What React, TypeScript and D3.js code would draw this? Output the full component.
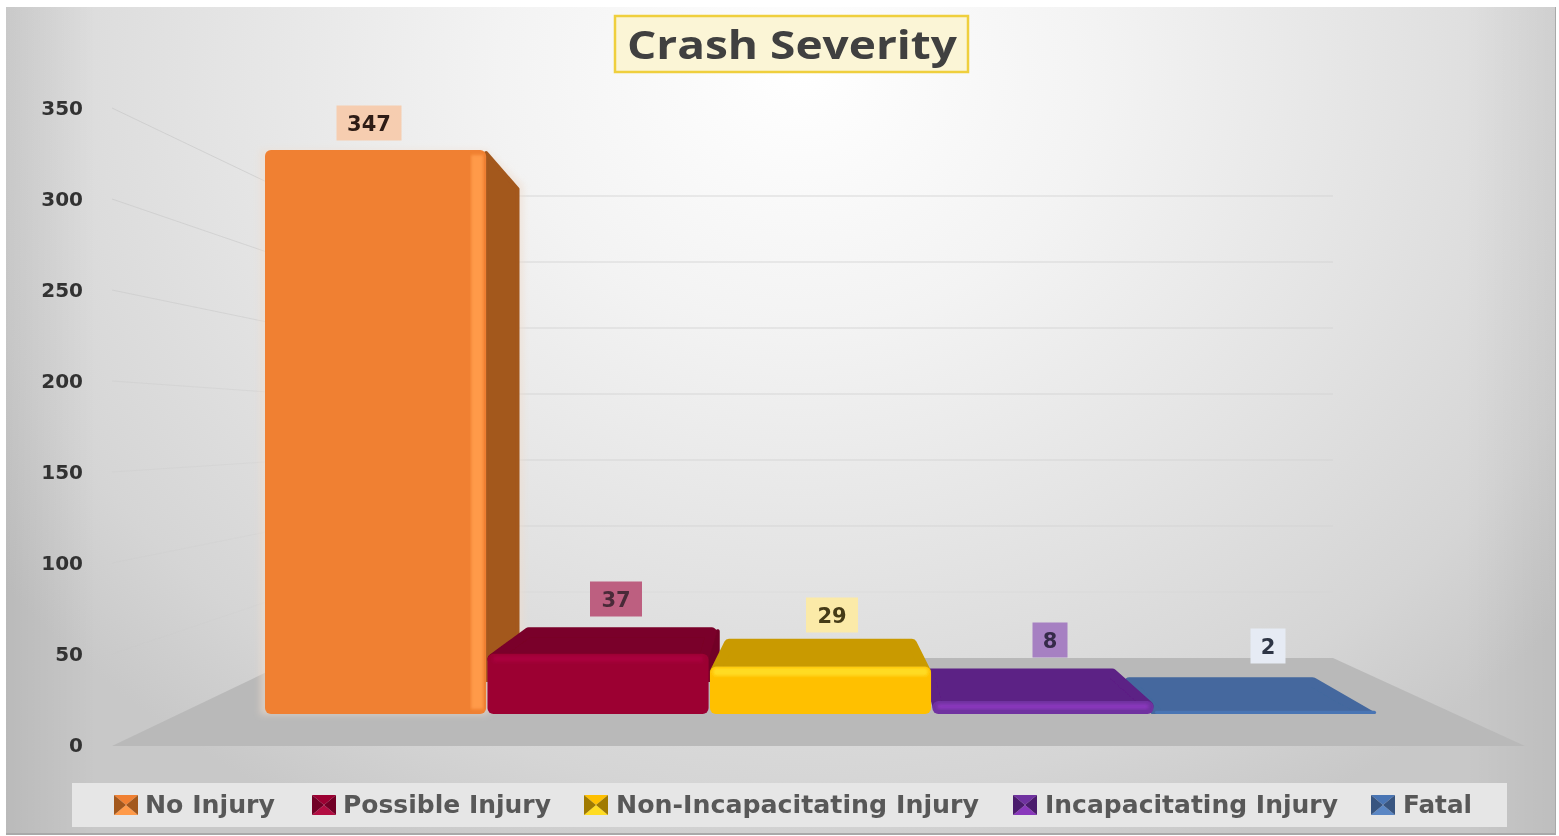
import React, { useEffect } from "react";
import * as d3 from "d3";

const categories = ["No Injury", "Possible Injury", "Non-Incapacitating Injury", "Incapacitating Injury", "Fatal"];
const crashes = [347, 37, 29, 8, 2];
const axisTicks = [0, 50, 100, 150, 200, 250, 300, 350];

const frontFill = ["#f08030", "#9c0033", "#ffc000", "#7030a0", "#4a74b4"];
const topFill = ["#f58a35", "#7a0029", "#c99a00", "#5c2085", "#44689e"];
const sideFill = ["#a3581f", "#720027", "#a07a00", "#4b1a6d", "#385580"];
const glintFill = ["#ff9a48", "#b30a42", "#ffdc20", "#8a38bc", "#5a86c4"];
const labelFill = ["#f6cdb0", "#bd5f80", "#fbeaa8", "#a680c2", "#e6ebf4"];
const labelInk = ["#2e1c14", "#4a2a38", "#453a18", "#352a48", "#2e3644"];
const labelCentreX = [369, 616, 832, 1050, 1268];
const labelCentreY = [123, 599, 615, 640, 646];
const labelWidth = [65, 52, 52, 35, 35];
const legendSwatchX = [114, 312, 584, 1013, 1371];
const legendTextX = [145, 343, 616, 1045, 1403];
const legendTextWidth = [130, 208, 363, 293, 69];
const wallOpacity = [0, 0.12, 0.15, 0.2, 0.3, 0.45, 0.55, 0.6];

const axisY = d3.scaleLinear().domain([0, 350]).range([745, 108]);
const wallY = d3.scaleLinear().domain([0, 350]).range([658, 196]);
const barFrontY = d3.scaleLinear().domain([0, 347]).range([714, 150]);
const barBackY = d3.scaleLinear().domain([0, 347]).range([680, 185]);
const barX = d3.scaleBand<string>().domain(categories).range([265, 1376]).paddingInner(0.006);

const WALL_FRONT = 112;
const WALL_BACK = 296;
const WALL_RIGHT = 1333;
const FLOOR_RIGHT = 1525;
const VANISH_X = 820;
const DEPTH = 0.1;
const backX = (x: number) => x + (VANISH_X - x) * DEPTH;
const poly = d3.line<[number, number]>().curve(d3.curveLinearClosed);

const drawOrder = [0, 1, 4, 3, 2];
const font = "'DejaVu Sans', sans-serif";

function Bar({ i }: { i: number }) {
  const name = categories[i];
  const v = crashes[i];
  const x0 = barX(name)!;
  const x1 = x0 + barX.bandwidth();
  const yF = barFrontY(v);
  const yB = barBackY(v);
  const baseF = barFrontY(0);
  const baseB = barBackY(0);
  const h = baseF - yF;
  const inset = 5;
  const top: [number, number][] = [
    [x0 + inset, yF + inset],
    [x1 - inset, yF + inset],
    [backX(x1) - inset - 3, yB + inset],
    [backX(x0) + inset + 3, yB + inset],
  ];
  const hasSide = i < 2;
  const side: [number, number][] = [
    [x1, yF + 3],
    [backX(x1) - 2, yB + 4],
    [backX(x1) - 2, baseB],
    [x1, baseB],
  ];
  const halo: [number, number][] = [
    [x0 - 5, yF],
    [x1, yF],
    [backX(x1) + 4, yB],
    [backX(x1) + 4, baseB],
    [x1, baseF + 1],
    [x0 - 5, baseF + 1],
  ];
  const clipId = `bar-clip-${i}`;
  return (
    <g>
      <clipPath id={clipId}>
        <rect x={0} y={0} width={1559} height={baseF} />
      </clipPath>
      {i === 0 && <path d={poly(halo)!} fill="#efdccc" opacity={0.55} filter="url(#halo)" />}
      {hasSide && <path d={poly(side)!} fill={sideFill[i]} stroke={sideFill[i]} strokeWidth={4} strokeLinejoin="round" />}
      {i !== 0 && (
        <g clipPath={`url(#${clipId})`}>
          <path d={poly(top)!} fill={topFill[i]} stroke={topFill[i]} strokeWidth={inset * 2} strokeLinejoin="round" />
        </g>
      )}
      <rect x={x0} y={yF} width={x1 - x0} height={h} rx={Math.min(h / 2, 6)} fill={frontFill[i]} />
      <g filter="url(#glint)">
        {i === 0 && <rect x={x1 - 15} y={yF + 5} width={12} height={h - 10} fill={glintFill[i]} />}
        {i === 1 && <rect x={x0 + 6} y={yF + 2} width={x1 - x0 - 12} height={6} fill={glintFill[i]} opacity={0.6} />}
        {i === 2 && <rect x={x0 + 3} y={yF + 1} width={x1 - x0 - 6} height={8} rx={3} fill={glintFill[i]} />}
        {i === 3 && <rect x={x0 + 5} y={yF + 3} width={x1 - x0 - 10} height={5} rx={2} fill={glintFill[i]} />}
      </g>
    </g>
  );
}

function Swatch({ i }: { i: number }) {
  const x = legendSwatchX[i], y = 795, w = 24, h = 20;
  const cx = x + w / 2, cy = y + h / 2;
  const tri = (a: [number, number], b: [number, number], fill: string, key: string) => (
    <path key={key} d={poly([a, b, [cx, cy]])!} fill={fill} />
  );
  return (
    <g>
      {tri([x, y], [x + w, y], frontFill[i], "t")}
      {tri([x, y + h], [x + w, y + h], glintFill[i], "b")}
      {tri([x, y], [x, y + h], sideFill[i], "l")}
      {tri([x + w, y], [x + w, y + h], sideFill[i], "r")}
    </g>
  );
}

export default function App() {
  useEffect(() => {
    document.body.style.margin = "0";
    document.body.style.background = "#fff";
  }, []);
  const floor: [number, number][] = [[WALL_FRONT, 746], [WALL_BACK, 658], [WALL_RIGHT, 658], [FLOOR_RIGHT, 746]];
  return (
    <svg width={1559} height={836} style={{ display: "block" }}>
      <defs>
        <radialGradient id="panel" gradientUnits="userSpaceOnUse" cx={0} cy={0} r={1} gradientTransform="translate(800 70) scale(1000 850)">
          <stop offset="0" stopColor="#ffffff" />
          <stop offset="0.3" stopColor="#f3f3f3" />
          <stop offset="0.6" stopColor="#e3e3e3" />
          <stop offset="0.85" stopColor="#d5d5d5" />
          <stop offset="1" stopColor="#c8c8c8" />
        </radialGradient>
        <linearGradient id="edgeL" x1="0" x2="1" y1="0" y2="0">
          <stop offset="0" stopColor="#000" stopOpacity={0.07} />
          <stop offset="1" stopColor="#000" stopOpacity={0} />
        </linearGradient>
        <linearGradient id="edgeR" x1="1" x2="0" y1="0" y2="0">
          <stop offset="0" stopColor="#000" stopOpacity={0.05} />
          <stop offset="1" stopColor="#000" stopOpacity={0} />
        </linearGradient>
        <filter id="soft" x="-2%" y="-2%" width="104%" height="104%">
          <feGaussianBlur stdDeviation="0.55" />
        </filter>
        <filter id="glint" x="-5%" y="-20%" width="110%" height="140%">
          <feGaussianBlur stdDeviation="1.8" />
        </filter>
        <filter id="halo" x="-20%" y="-20%" width="140%" height="140%">
          <feGaussianBlur stdDeviation="3" />
        </filter>
      </defs>
      <rect x={0} y={0} width={1559} height={836} fill="#ffffff" />
      <rect x={6} y={7} width={1550} height={828} fill="#a9a9a9" />
      <g filter="url(#soft)">
        <rect x={6} y={7} width={1549} height={826} fill="url(#panel)" />
        <rect x={6} y={7} width={90} height={826} fill="url(#edgeL)" />
        <rect x={1465} y={7} width={90} height={826} fill="url(#edgeR)" />

        {axisTicks.map((t, k) => (
          <g key={t}>
            {t > 0 && <line x1={WALL_FRONT} y1={axisY(t)} x2={WALL_BACK} y2={wallY(t)} stroke="#c4c4c4" strokeOpacity={wallOpacity[k]} strokeWidth={1} />}
            {t > 0 && <line x1={WALL_BACK} y1={wallY(t)} x2={WALL_RIGHT} y2={wallY(t)} stroke="#d2d2d2" strokeOpacity={t === 50 ? 0.3 : 0.85} strokeWidth={1} />}
            <text x={83} y={axisY(t)} dy="0.36em" textAnchor="end" fontFamily={font} fontWeight={700} fontSize={20} fill="#333333">{t}</text>
          </g>
        ))}

        <path d={poly(floor)!} fill="#b9b9b9" />

        {drawOrder.map((i) => <Bar key={categories[i]} i={i} />)}

        {crashes.map((v, i) => (
          <g key={i}>
            <rect x={labelCentreX[i] - labelWidth[i] / 2} y={labelCentreY[i] - 17.5} width={labelWidth[i]} height={35} fill={labelFill[i]} />
            <text x={labelCentreX[i]} y={labelCentreY[i]} dy="0.36em" textAnchor="middle" fontFamily={font} fontWeight={700} fontSize={21} fill={labelInk[i]}>{v}</text>
          </g>
        ))}

        <rect x={615} y={16} width={353} height={56} fill="#fbf5d6" stroke="#efcf3c" strokeWidth={2.5} />
        <text x={627} y={45} dy="0.36em" textLength={330} lengthAdjust="spacingAndGlyphs" fontFamily="'Open Sans', sans-serif" fontWeight={700} fontSize={39} fill="#3f3f3f">Crash Severity</text>

        <rect x={72} y={783} width={1435} height={44} fill="#e6e6e6" />
        {categories.map((c, i) => (
          <g key={c}>
            <Swatch i={i} />
            <text x={legendTextX[i]} y={804} dy="0.36em" textLength={legendTextWidth[i]} lengthAdjust="spacingAndGlyphs" fontFamily={font} fontWeight={700} fontSize={24} fill="#595959">{c}</text>
          </g>
        ))}
      </g>
    </svg>
  );
}
